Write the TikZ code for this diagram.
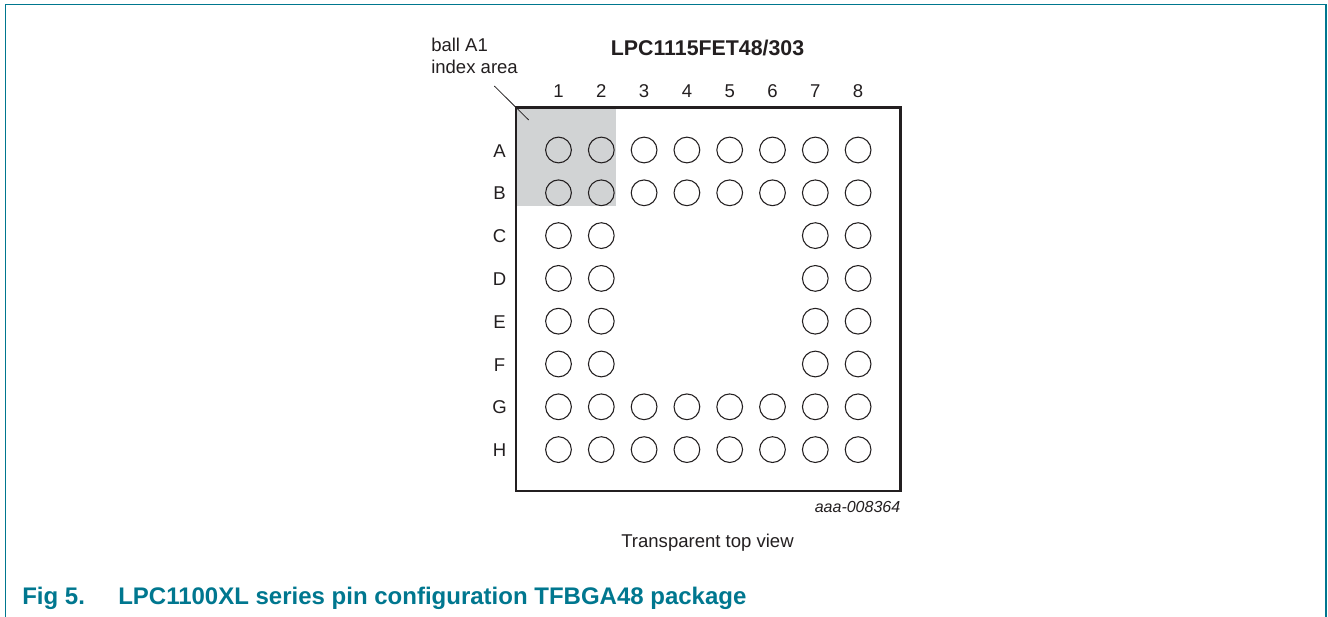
\documentclass[tikz,border=0pt]{standalone}
\usepackage{fontspec}
\setmainfont{Liberation Sans}
\definecolor{nxpteal}{HTML}{00778F}
\definecolor{inkgrey}{HTML}{231F20}
\definecolor{indexgrey}{HTML}{D1D3D4}
\begin{document}
\begin{tikzpicture}[x=0.75pt,y=-0.75pt]
  \tikzset{ball style/.style = {draw=inkgrey, circle, line width=0.8pt, minimum size=19.3pt, inner sep=0pt, outer sep=0pt},
    label style/.style = {text=inkgrey, font=\fontsize{13.9}{16}\selectfont, inner sep=0pt},
    caption style/.style = {text=nxpteal, font=\fontsize{18}{21}\bfseries\selectfont, anchor=base west, inner sep=0pt}}
  \useasboundingbox (0,0) rectangle (1328,617);
  \fill[white] (0,0) rectangle (1328,617);
  % frame, open at the bottom
  \draw[nxpteal, line width=0.9pt] (5.5,617) -- (5.5,4.5) -- (1326,4.5) -- (1326,617);
  % index area
  \fill[indexgrey] (517,108) rectangle (616,206);
  \node[label style, font=\fontsize{16}{18}\bfseries\selectfont] (title) at (707.5,48) {LPC1115FET48/303};
  \node[label style, anchor=base west] (ballA) at (431,52) {ball A1};
  \node[label style, anchor=base west] (indexarea) at (431,74) {index area};
  % balls
  \foreach \c in {1,...,8} {
    \node[label style] (col\c) at ({558.5+42.8*(\c-1)},91) {\c};
  }
  \foreach \r [count=\i from 0] in {A,B,C,D,E,F,G,H} {
    \node[label style, anchor=base] (row\r) at (499.5,{157+42.8*\i}) {\r};
    \foreach \c in {1,...,8} {
      \pgfmathtruncatemacro{\hole}{and(\i>1,\i<6) && and(\c>2,\c<7)}
      \ifnum\hole=0
        \node[ball style] (ball\r\c) at ({558.5+42.8*(\c-1)},{150+42.8*\i}) {};
      \fi
    }
  }
  % package outline
  \draw[inkgrey, line width=1.7pt] (516,107.5) rectangle (900.5,491);
  \coordinate (leadstart) at (494.3,86);
  \coordinate (leadend) at (528.7,120);
  \draw[inkgrey, line width=0.6pt] (leadstart) -- (leadend);
  \node[label style, anchor=base east, font=\fontsize{12}{14}\itshape\selectfont] (code) at (900.5,512.5) {aaa-008364};
  \node[label style] (view) at (707.5,543) {Transparent top view};
  \node[caption style] (figno) at (22,604) {Fig 5.};
  \node[caption style] (figtitle) at (118,604) {LPC1100XL series pin configuration TFBGA48 package};
\end{tikzpicture}
\end{document}
